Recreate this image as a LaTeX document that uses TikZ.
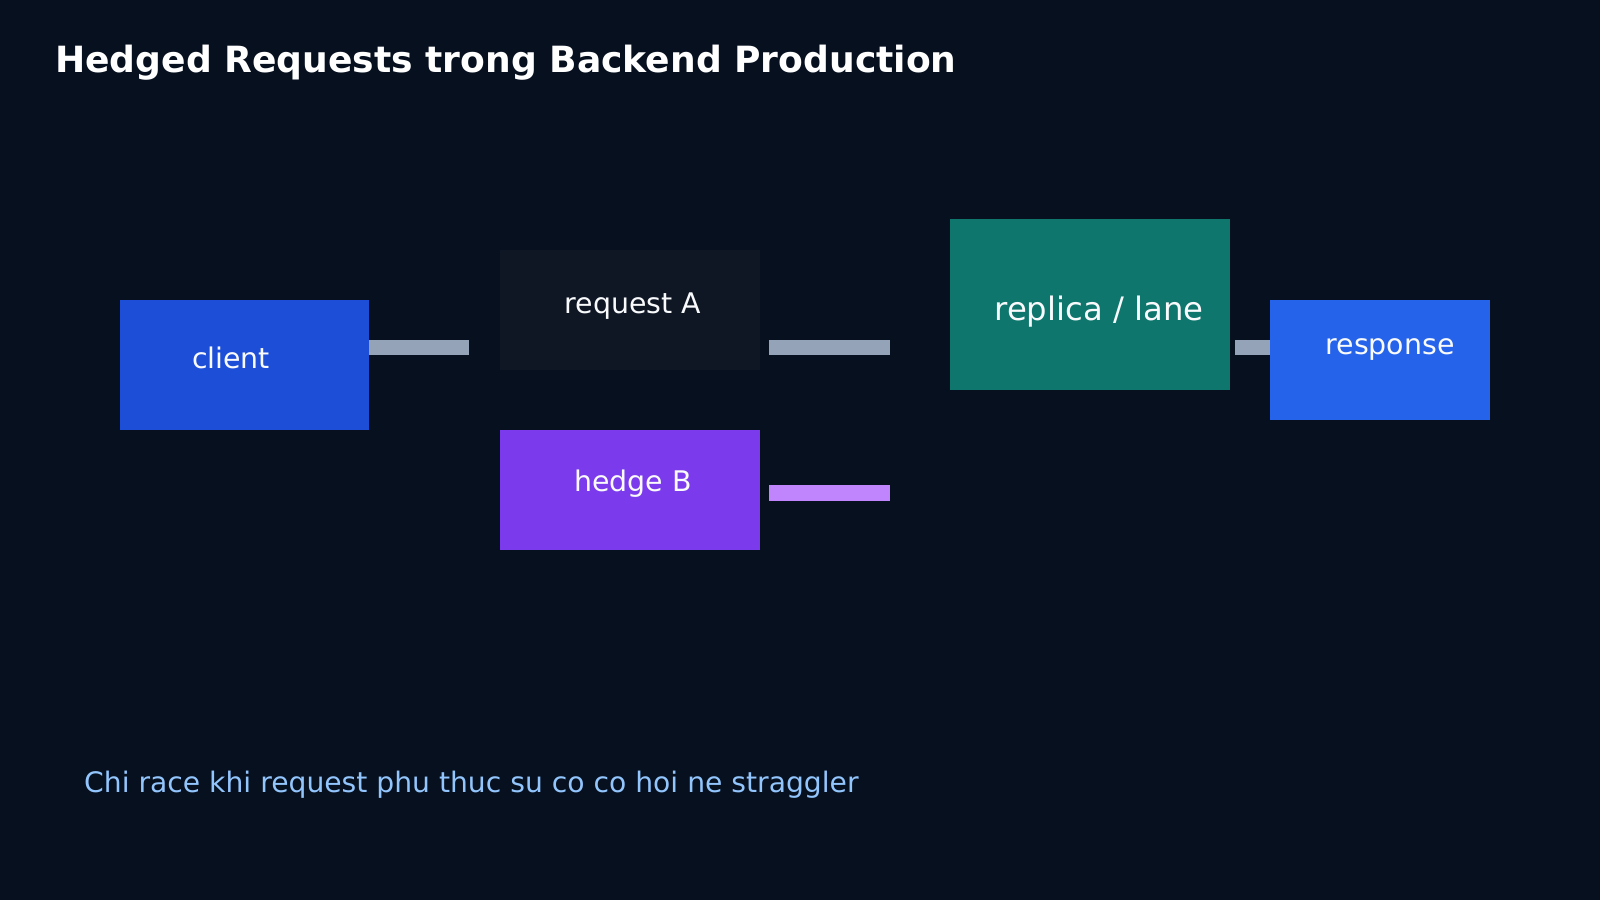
\documentclass[tikz,border=0pt]{standalone}
\usepackage{fontspec}
\setmainfont{DejaVu Sans}
\usepackage{tikz}
\definecolor{cbg}{HTML}{06101F}
\definecolor{cclient}{HTML}{1D4ED8}
\definecolor{creqa}{HTML}{0F1624}
\definecolor{chedge}{HTML}{7C3AED}
\definecolor{crepl}{HTML}{0F766E}
\definecolor{cresp}{HTML}{2563EB}
\definecolor{cbar}{HTML}{94A3B8}
\definecolor{cbarb}{HTML}{C084FC}
\definecolor{cnote}{HTML}{93C5FD}
\definecolor{ctext}{HTML}{F8FAFC}
\tikzset{
  blk/.style={rectangle, draw=none, inner sep=0pt, outer sep=0pt},
  lbl/.style={anchor=base, inner sep=0pt, text=ctext,
              font=\fontsize{28.4}{34}\selectfont},
  bar/.style={line width=15.5pt, cbar},
}

\begin{document}
\begin{tikzpicture}[x=1pt, y=-1pt]
  \fill[cbg] (0,0) rectangle (1600,900);
  \node[anchor=base west, inner sep=0pt, text=white,
        font=\bfseries\fontsize{36.1}{44}\selectfont] (title) at (55,72)
        {Hedged Requests trong Backend Production};
  % boxes
  \node[blk, fill=cclient, minimum width=249, minimum height=130] (client) at (244.5,365) {};
  \node[blk, fill=creqa, minimum width=260, minimum height=120] (reqa) at (630,310) {};
  \node[blk, fill=chedge, minimum width=260, minimum height=120] (hedgeb) at (630,490) {};
  \node[blk, fill=crepl, minimum width=280, minimum height=171] (replica) at (1090,304.5) {};
  \node[blk, fill=cresp, minimum width=220, minimum height=120] (resp) at (1380,360) {};
  % labels
  \node[lbl] (clientlbl) at (231,368) {client};
  \node[lbl] (reqalbl) at (633,313) {request A};
  \node[lbl] (hedgeblbl) at (633,491) {hedge B};
  \node[lbl, font=\fontsize{32.3}{38}\selectfont] (repllbl) at (1099,320) {replica / lane};
  \node[lbl] (resplbl) at (1390,354) {response};
  % bars
  \coordinate (b1e) at (469,347.5);
  \coordinate (b2s) at (769,347.5);
  \coordinate (b2e) at (890,347.5);
  \coordinate (b3s) at (769,493);
  \coordinate (b3e) at (890,493);
  \coordinate (b4s) at (1235,347.5);
  \draw[bar] (client.east |- b1e) -- (b1e);
  \draw[bar] (b2s) -- (b2e);
  \draw[bar, cbarb] (b3s) -- (b3e);
  \draw[bar] (b4s) -- (resp.west |- b4s);
  % note
  \node[anchor=base west, inner sep=0pt, text=cnote,
        font=\fontsize{28.2}{34}\selectfont] (note) at (84,792)
        {Chi race khi request phu thuc su co co hoi ne straggler};
\end{tikzpicture}
\end{document}
